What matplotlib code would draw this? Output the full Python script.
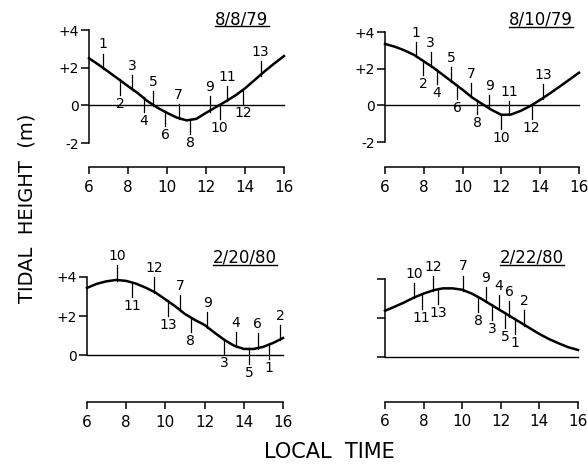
import numpy as np
import matplotlib
matplotlib.use('Agg')
import matplotlib.pyplot as plt
from matplotlib.lines import Line2D

# half-hourly tidal height (m), 0600-1600 local time
hours = np.arange(6, 16.5, 0.5)

tide_080879 = [2.50, 2.15, 1.78, 1.40, 1.02, 0.65, 0.22, -0.12, -0.40, -0.65, -0.80,
               -0.72, -0.40, -0.10, 0.20, 0.52, 0.90, 1.35, 1.80, 2.22, 2.62]
tide_081079 = [3.35, 3.20, 3.00, 2.75, 2.40, 2.05, 1.65, 1.25, 0.85, 0.42, 0.08,
               -0.25, -0.52, -0.50, -0.30, -0.03, 0.30, 0.65, 1.02, 1.40, 1.78]
tide_022080 = [3.44, 3.65, 3.78, 3.85, 3.80, 3.66, 3.45, 3.20, 2.85, 2.50, 2.10,
               1.80, 1.54, 1.15, 0.78, 0.48, 0.31, 0.31, 0.42, 0.62, 0.87]
tide_022280 = [2.37, 2.58, 2.80, 3.05, 3.25, 3.42, 3.52, 3.52, 3.45, 3.25, 2.98,
               2.68, 2.38, 2.08, 1.78, 1.48, 1.18, 0.92, 0.70, 0.50, 0.36]

# sample numbers, collection times (h) and which side of the curve the mark sits on
num_080879 = ['1', '2', '3', '4', '5', '6', '7', '8', '9', '10', '11', '12', '13']
time_080879 = [6.7, 7.6, 8.2, 8.8, 9.3, 9.9, 10.6, 11.2, 12.2, 12.7, 13.1, 13.9, 14.8]
side_080879 = [1, -1, 1, -1, 1, -1, 1, -1, 1, -1, 1, -1, 1]

num_081079 = ['1', '2', '3', '4', '5', '6', '7', '8', '9', '10', '11', '12', '13']
time_081079 = [7.6, 7.96, 8.35, 8.68, 9.4, 9.71, 10.43, 10.74, 11.38, 12.0, 12.4, 13.56, 14.16]
side_081079 = [1, -1, 1, -1, 1, -1, 1, -1, 1, -1, 1, -1, 1]

num_022080 = ['10', '11', '12', '13', '7', '8', '9', '3', '4', '5', '6', '1', '2']
time_022080 = [7.55, 8.31, 9.43, 10.12, 10.74, 11.3, 12.14, 13.0, 13.59, 14.27, 14.7, 15.3, 15.85]
side_022080 = [1, -1, 1, -1, 1, -1, 1, -1, 1, -1, 1, -1, 1]

num_022280 = ['10', '11', '12', '13', '7', '8', '9', '3', '4', '5', '6', '1', '2']
time_022280 = [7.52, 7.9, 8.5, 8.76, 10.06, 10.83, 11.22, 11.56, 11.9, 12.22, 12.44, 12.74, 13.2]
side_022280 = [1, -1, 1, -1, 1, -1, 1, -1, 1, -1, 1, -1, 1]

W, H = 588, 465
plt.rcParams['font.family'] = 'DejaVu Sans'
fig = plt.figure(figsize=(W / 100, H / 100), dpi=100)


def box(x0, x1, ytop, ybot):
    return [x0 / W, 1 - ybot / H, (x1 - x0) / W, (ybot - ytop) / H]


panels = [
    ('8/8/79', tide_080879, num_080879, time_080879, side_080879,
     box(89, 284, 30, 143), (-2, 4), [-2, 0, 2, 4], ['-2', '0', '+2', '+4'], 24, (242, 24)),
    ('8/10/79', tide_081079, num_081079, time_081079, side_081079,
     box(385, 579, 32, 142), (-2, 4), [-2, 0, 2, 4], ['-2', '0', '+2', '+4'], 25, (541, 25)),
    ('2/20/80', tide_022080, num_022080, time_022080, side_022080,
     box(87, 283, 277, 355), (0, 4), [0, 2, 4], ['0', '+2', '+4'], 47, (245, 263)),
    ('2/22/80', tide_022280, num_022280, time_022280, side_022280,
     box(385, 578, 279, 357), (0, 4), [0, 2, 4], ['', '', ''], 45, (532, 263)),
]

titles = []
for title, tide, nums, times, sides, rect, ylim, yt, ytl, off, tpos in panels:
    ax = fig.add_axes(rect)
    ax.patch.set_visible(False)
    ax.plot(hours, tide, color='black', lw=1.8, solid_joinstyle='round', clip_on=False)
    ax.axhline(0, color='black', lw=1.0, clip_on=False)
    ax.set_xlim(6, 16)
    ax.set_ylim(*ylim)
    ax.spines['top'].set_visible(False)
    ax.spines['right'].set_visible(False)
    ax.spines['left'].set_linewidth(1.1)
    ax.spines['bottom'].set_linewidth(1.1)
    ax.spines['bottom'].set_position(('outward', off * 0.72))
    ax.set_xticks(range(6, 17, 2))
    ax.tick_params(axis='x', direction='out', length=5, width=1.1, pad=4, labelsize=11)
    ax.set_yticks(yt)
    ax.set_yticklabels(ytl)
    ax.tick_params(axis='y', direction='out', length=6, width=1.1, pad=1, labelsize=10)

    # sampling marks on the tide curve
    level = np.interp(times, hours, tide)
    for n, t, s, v in zip(nums, times, sides, level):
        end = v + 0.75 * s
        ax.plot([t, t], [v - 0.05 * s, end], color='black', lw=0.9, clip_on=False)
        ax.annotate(n, (t, end), xytext=(0, 1.5 * s), textcoords='offset points',
                    ha='center', va='bottom' if s > 0 else 'top', fontsize=10,
                    annotation_clip=False)

    txt = fig.text(tpos[0] / W, 1 - tpos[1] / H, title, ha='center', va='baseline', fontsize=12)
    titles.append((txt, tpos[1]))

fig.text(27 / W, 1 - 208 / H, 'TIDAL  HEIGHT  (m)', rotation=90, ha='center', va='center',
         fontsize=14)
fig.text(329 / W, 1 - 452 / H, 'LOCAL  TIME', ha='center', va='center', fontsize=15)

# underline the dates
renderer = fig.canvas.get_renderer()
for txt, base in titles:
    bb = txt.get_window_extent(renderer)
    y = 1 - (base + 2.5) / H
    fig.add_artist(Line2D([bb.x0 / W, bb.x1 / W], [y, y], transform=fig.transFigure,
                          color='black', lw=1.0))

fig.savefig('out.png', dpi=100)
